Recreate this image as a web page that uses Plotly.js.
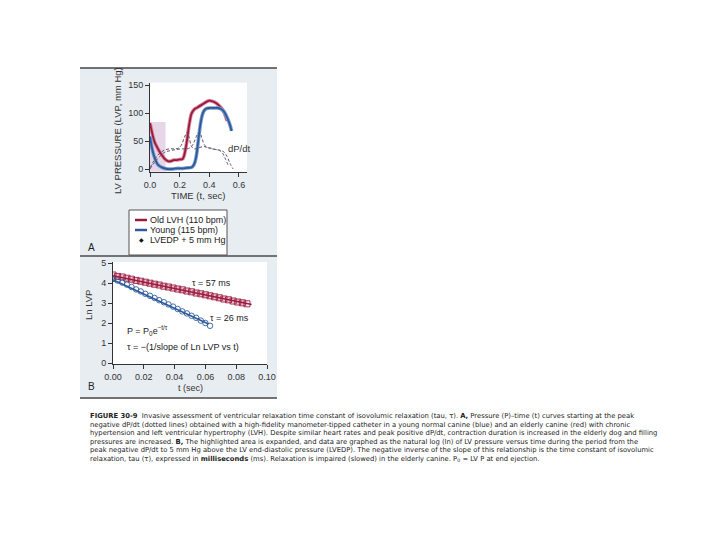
<!DOCTYPE html>
<html><head><meta charset="utf-8">
<script src="https://cdn.plot.ly/plotly-3.0.1.min.js"></script>
<style>body{margin:0;background:#fff}#c{width:720px;height:540px}</style>
</head><body><div id="c"></div>
<script>
// ---- Panel A data (LV pressure, mm Hg vs time, s) ----
const oldT = [0,0.01,0.02,0.03,0.04,0.05,0.06,0.08,0.10,0.12,0.14,0.16,0.18,0.20,0.22,0.23,0.24,0.25,0.26,0.27,0.28,0.30,0.32,0.35,0.38,0.40,0.42,0.45,0.47,0.49,0.50,0.51,0.52];
const oldP = [82,70,58,49,43,38,33,25,18,14,14,16,16,17,18,24,36,52,72,88,99,107,110,115,120,122,121,117,112,106,101,94,86];
const youngT = [0,0.01,0.02,0.03,0.04,0.05,0.06,0.08,0.10,0.12,0.15,0.18,0.20,0.22,0.25,0.28,0.29,0.30,0.31,0.32,0.33,0.34,0.35,0.36,0.37,0.38,0.40,0.43,0.46,0.48,0.50,0.52,0.54,0.55];
const youngP = [58,42,30,21,14,9,6,3,1,0,0,1,1,1,2,3,5,10,20,38,60,80,94,102,106,108,109,109,109,107,102,92,78,68];
const dpOldT = [0,0.02,0.05,0.08,0.10,0.13,0.16,0.19,0.21,0.23,0.25,0.265,0.28,0.30,0.33,0.36,0.40,0.44,0.47,0.49,0.51,0.53];
const dpOldP = [2,12,24,31,34,36,36,37,42,55,66,55,40,36,38,40,38,35,33,28,17,5];
const dpYoungT = [0,0.02,0.05,0.08,0.10,0.14,0.18,0.22,0.25,0.28,0.30,0.32,0.335,0.35,0.37,0.40,0.44,0.48,0.50,0.52,0.54,0.56];
const dpYoungP = [0,8,18,26,30,33,35,36,36,40,50,62,66,55,42,37,35,33,30,22,10,0];
const highlightT = [0, 0.105];
const highlightP = [-5, 84];
const aXTicks = [0, 0.2, 0.4, 0.6];
const aXTickText = ['0.0','0.2','0.4','0.6'];
const aYTicks = [0, 50, 100, 150];
const legendNames = ['Old LVH (110 bpm)','Young (115 bpm)','LVEDP + 5 mm Hg'];

// ---- Panel B data (ln LVP vs t, s) ----
const oldLnT = [0,0.003,0.006,0.009,0.012,0.015,0.018,0.021,0.024,0.027,0.030,0.033,0.036,0.039,0.042,0.045,0.048,0.051,0.054,0.057,0.060,0.063,0.066,0.069,0.072,0.075,0.078,0.081,0.084,0.087];
const oldLn  = [4.40,4.33,4.30,4.24,4.19,4.13,4.09,4.04,3.99,3.94,3.90,3.84,3.80,3.75,3.70,3.66,3.60,3.56,3.50,3.46,3.41,3.36,3.31,3.26,3.20,3.16,3.10,3.05,3.01,2.96];
const youngLnT = [0,0.003,0.006,0.009,0.012,0.015,0.018,0.021,0.024,0.027,0.030,0.033,0.036,0.039,0.042,0.045,0.048,0.051,0.054,0.057,0.060,0.063];
const youngLn  = [4.20,4.12,4.02,3.92,3.80,3.68,3.58,3.46,3.36,3.25,3.14,3.04,2.93,2.82,2.70,2.58,2.48,2.36,2.26,2.12,2.00,1.86];
const oldFitT = [0, 0.09];
const oldFit  = [4.36, 2.93];
const youngFitT = [0, 0.062];
const youngFit  = [4.16, 1.95];
const bXTicks = [0,0.02,0.04,0.06,0.08,0.10];
const bXTickText = ['0.00','0.02','0.04','0.06','0.08','0.10'];
const bYTicks = [0,1,2,3,4,5];

// ---- Caption ----
const captionLines = [
 '<b>FIGURE 30-9</b>  Invasive assessment of ventricular relaxation time constant of isovolumic relaxation (tau, τ). <b>A,</b> Pressure (P)–time (t) curves starting at the peak',
 'negative dP/dt (dotted lines) obtained with a high-fidelity manometer-tipped catheter in a young normal canine (blue) and an elderly canine (red) with chronic',
 'hypertension and left ventricular hypertrophy (LVH). Despite similar heart rates and peak positive dP/dt, contraction duration is increased in the elderly dog and filling',
 'pressures are increased. <b>B,</b> The highlighted area is expanded, and data are graphed as the natural log (ln) of LV pressure versus time during the period from the',
 'peak negative dP/dt to 5 mm Hg above the LV end-diastolic pressure (LVEDP). The negative inverse of the slope of this relationship is the time constant of isovolumic',
 'relaxation, tau (τ), expressed in <b>milliseconds</b> (ms). Relaxation is impaired (slowed) in the elderly canine. P<sub>0</sub> = LV P at end ejection.'
];

const W = 720, H = 540;
const px = v => v / W, py = v => 1 - v / H;
const RED = '#981b3e', RED_L = '#d9849c', BLUE = '#2c5b9c', BLUE_L = '#7d9dcc';
const FONT = 'Liberation Sans, Arial, sans-serif';
const CAPFONT = 'DejaVu Sans, sans-serif';

const traces = [
 {x: oldT, y: oldP, xaxis:'x', yaxis:'y', mode:'lines', line:{color:RED_L, width:3.6, shape:'spline'}, hoverinfo:'skip'},
 {x: oldT, y: oldP, xaxis:'x', yaxis:'y', mode:'lines', line:{color:RED, width:1.8, shape:'spline'}, name:legendNames[0]},
 {x: youngT, y: youngP, xaxis:'x', yaxis:'y', mode:'lines', line:{color:BLUE_L, width:3.6, shape:'spline'}, hoverinfo:'skip'},
 {x: youngT, y: youngP, xaxis:'x', yaxis:'y', mode:'lines', line:{color:BLUE, width:1.8, shape:'spline'}, name:legendNames[1]},
 {x: dpOldT, y: dpOldP, xaxis:'x', yaxis:'y', mode:'lines', line:{color:'#6d4a66', width:1, dash:'3px,2px', shape:'spline'}},
 {x: dpYoungT, y: dpYoungP, xaxis:'x', yaxis:'y', mode:'lines', line:{color:'#55587a', width:1, dash:'3px,2px', shape:'spline'}},
 {x: oldLnT, y: oldLn, xaxis:'x2', yaxis:'y2', mode:'lines', line:{color:'#efc0cd', width:5}, hoverinfo:'skip'},
 {x: oldLnT, y: oldLn, xaxis:'x2', yaxis:'y2', mode:'markers', marker:{symbol:'square-open', size:6, color:RED, line:{width:0.9}}},
 {x: oldFitT, y: oldFit, xaxis:'x2', yaxis:'y2', mode:'lines', line:{color:RED, width:1.5}},
 {x: youngLnT, y: youngLn, xaxis:'x2', yaxis:'y2', mode:'markers', marker:{symbol:'circle-open', size:5.5, color:BLUE, line:{width:0.9}}},
 {x: youngFitT, y: youngFit, xaxis:'x2', yaxis:'y2', mode:'lines', line:{color:BLUE, width:1.5}}
];

const axCommon = {showline:true, linecolor:'#333', linewidth:1, ticks:'outside', ticklen:4, tickcolor:'#333',
  showgrid:false, zeroline:false, tickfont:{family:FONT, size:9, color:'#333'}, fixedrange:true};

const shapes = [
 {type:'rect', xref:'paper', yref:'paper', x0:px(80), x1:px(277), y0:py(255), y1:py(68), fillcolor:'#e8edf2', line:{width:0}, layer:'below'},
 {type:'rect', xref:'paper', yref:'paper', x0:px(80), x1:px(277), y0:py(397), y1:py(257), fillcolor:'#e8edf2', line:{width:0}, layer:'below'},
 {type:'rect', xref:'x domain', yref:'y domain', x0:0, x1:1, y0:0, y1:1, fillcolor:'#fff', line:{width:0}, layer:'below'},
 {type:'rect', xref:'x2 domain', yref:'y2 domain', x0:0, x1:1, y0:0, y1:1, fillcolor:'#fff', line:{width:0}, layer:'below'},
 {type:'rect', xref:'x', yref:'y', x0:highlightT[0], x1:highlightT[1], y0:highlightP[0], y1:highlightP[1], fillcolor:'#e6d6e8', line:{width:0}, layer:'below'},
 {type:'line', xref:'paper', yref:'paper', x0:px(80), x1:px(277), y0:py(68), y1:py(68), line:{color:'#444', width:1.5}},
 {type:'line', xref:'paper', yref:'paper', x0:px(80), x1:px(277), y0:py(256), y1:py(256), line:{color:'#444', width:1.5}},
 {type:'line', xref:'paper', yref:'paper', x0:px(80), x1:px(277), y0:py(398), y1:py(398), line:{color:'#444', width:1.5}},
 {type:'rect', xref:'paper', yref:'paper', x0:px(129), x1:px(227), y0:py(255), y1:py(210), fillcolor:'#fff', line:{color:'#555', width:1}},
 {type:'line', xref:'paper', yref:'paper', x0:px(135), x1:px(147), y0:py(220), y1:py(220), line:{color:RED, width:2.5}},
 {type:'line', xref:'paper', yref:'paper', x0:px(135), x1:px(147), y0:py(230), y1:py(230), line:{color:BLUE, width:2.5}}
];

const ann = (x, y, text, opt) => Object.assign({xref:'paper', yref:'paper', x:px(x), y:py(y), text:text, showarrow:false,
  font:{family:FONT, size:9, color:'#222'}, xanchor:'left', yanchor:'middle'}, opt || {});

const annotations = [
 ann(117, 131, 'LV PRESSURE (LVP, mm Hg)', {textangle:-90, xanchor:'center', font:{family:FONT, size:9.5, color:'#333'}}),
 ann(198, 196, 'TIME (t, sec)', {xanchor:'center', font:{family:FONT, size:9.5, color:'#333'}}),
 ann(226, 148, 'dP/dt', {font:{family:FONT, size:9.5, color:'#333'}}),
 ann(148, 220, legendNames[0]),
 ann(148, 230, legendNames[1]),
 ann(141, 240, '◆', {xanchor:'center', font:{family:FONT, size:6, color:'#111'}}),
 ann(148, 240, legendNames[2]),
 ann(86, 247, 'A', {font:{family:FONT, size:10, color:'#222'}}),
 ann(88, 305, 'Ln LVP', {textangle:-90, xanchor:'center', font:{family:FONT, size:9.5, color:'#333'}}),
 ann(190, 388, 't (sec)', {xanchor:'center', font:{family:FONT, size:9, color:'#333'}}),
 ann(86, 386, 'B', {font:{family:FONT, size:10, color:'#222'}}),
 {xref:'x2', yref:'y2', x:0.050, y:4.02, text:'τ = 57 ms', showarrow:false, xanchor:'left', font:{family:FONT, size:9, color:'#222'}},
 {xref:'x2', yref:'y2', x:0.062, y:2.27, text:'τ = 26 ms', showarrow:false, xanchor:'left', font:{family:FONT, size:9, color:'#222'}},
 {xref:'x2', yref:'y2', x:0.008, y:1.65, text:'P = P<sub>0</sub>e<sup>−t/τ</sup>', showarrow:false, xanchor:'left', font:{family:FONT, size:9, color:'#222'}},
 {xref:'x2', yref:'y2', x:0.008, y:0.82, text:'τ = −(1/slope of Ln LVP vs t)', showarrow:false, xanchor:'left', font:{family:FONT, size:9, color:'#222'}}
];
captionLines.forEach((t, i) => annotations.push(ann(88, 416 + i * 8.6, t, {font:{family:CAPFONT, size:6.8, color:'#222'}})));

const layout = {
 width:W, height:H, margin:{l:0, r:0, t:0, b:0}, paper_bgcolor:'#fff', plot_bgcolor:'rgba(0,0,0,0)',
 showlegend:false,
 xaxis: Object.assign({}, axCommon, {domain:[px(150), px(247)], range:[0, 0.654], tickvals:aXTicks, ticktext:aXTickText, anchor:'y'}),
 yaxis: Object.assign({}, axCommon, {domain:[py(171.8), py(82.8)], range:[-5, 154], tickvals:aYTicks, anchor:'x'}),
 xaxis2: Object.assign({}, axCommon, {domain:[px(113), px(267)], range:[0, 0.1], tickvals:bXTicks, ticktext:bXTickText, anchor:'y2'}),
 yaxis2: Object.assign({}, axCommon, {domain:[py(364), py(262)], range:[-0.05, 5.05], tickvals:bYTicks, anchor:'x2'}),
 shapes: shapes, annotations: annotations
};
Plotly.newPlot('c', traces, layout, {staticPlot:true, displayModeBar:false});
</script></body></html>
